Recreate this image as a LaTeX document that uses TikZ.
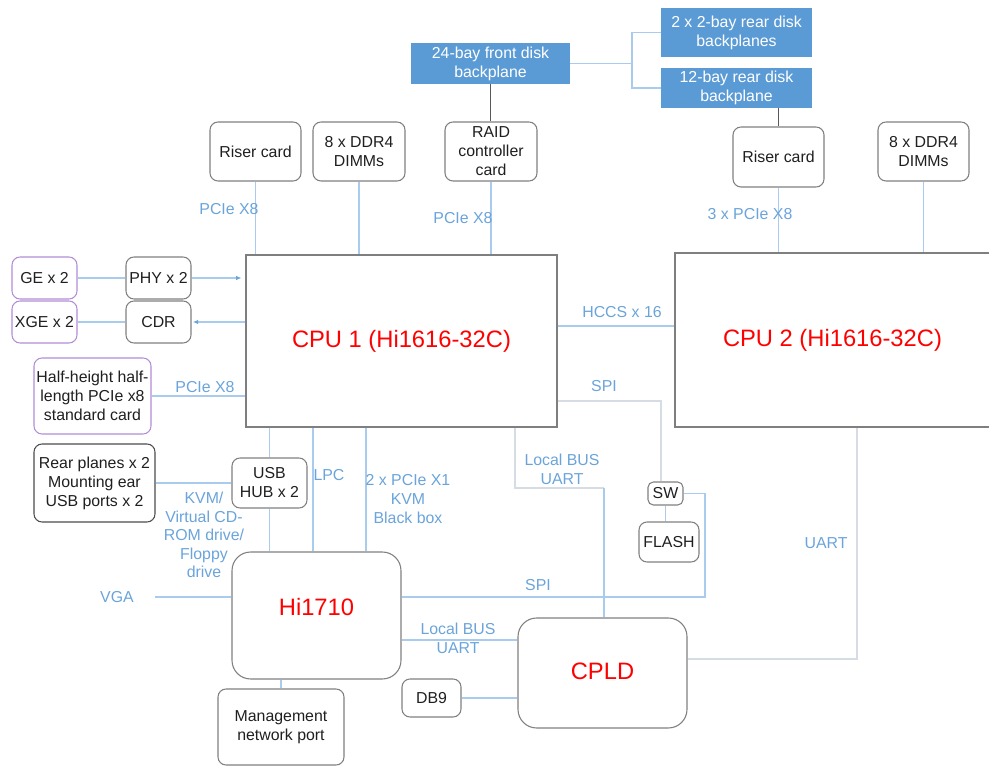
\documentclass[tikz,border=0pt]{standalone}
\usepackage{fontspec}
\setmainfont{Liberation Sans}
\usetikzlibrary{arrows.meta}
\definecolor{bpblue}{HTML}{5B9BD5}
\definecolor{lblue}{HTML}{A9CCEE}
\definecolor{lgray}{HTML}{D6DCE4}
\definecolor{txtblue}{HTML}{6AA4DA}
\definecolor{bord}{HTML}{7F7F7F}
\definecolor{purp}{HTML}{B08ED6}
\definecolor{cpured}{HTML}{FF0000}
\newcommand\bxfont{\fontsize{11.9}{14.2}\selectfont}
\newcommand\bgfont{\fontsize{17.8}{20}\selectfont}
\tikzset{
  box/.style={draw=bord, line width=0.8pt, rounded corners=6pt, inner sep=0pt, align=center, font=\bxfont, text=black!88},
  pbox/.style={box, draw=purp},
  dbox/.style={box, draw=black!70},
  bigbox/.style={box, rounded corners=14pt, font=\bgfont, text=cpured},
  cpu/.style={draw=bord, line width=0.9pt, inner sep=0pt, font=\bgfont, text=cpured},
  bp/.style={fill=bpblue, draw=none, inner sep=0pt, align=center, font=\bxfont, text=white},
  conn/.style={draw=lblue, line width=0.8pt},
  gconn/.style={draw=lgray, line width=0.9pt},
  dconn/.style={draw=black!65, line width=1pt},
  lab/.style={text=txtblue, font=\bxfont, align=center, inner sep=0pt},
  tip/.style={-{Latex[length=4pt,width=3.5pt,color=txtblue]}},
  wh/.style 2 args={minimum width=#1pt, minimum height=#2pt}
}
\begin{document}
\begin{tikzpicture}[x=0.75pt,y=-0.75pt]
\useasboundingbox (0,0) rectangle (989,766);

% disk backplanes
\node[bp, wh={119.25}{30.75}] (fb) at (490.5,63.5) {24-bay front disk\\backplane};
\node[bp, wh={113.25}{36.75}] (rb2) at (736.5,32.5) {2 x 2-bay rear disk\\backplanes};
\node[bp, wh={113.25}{30}] (rb12) at (736.5,88) {12-bay rear disk\\backplane};
\coordinate (j1) at (632,61);
\draw[conn] (fb.east) -- (fb.east -| j1);
\draw[conn] (rb2.west) -| (j1) |- (rb12.west);

% second row
\node[box, wh={68.25}{44.25}] (rc1) at (255.5,151.5) {Riser card};
\node[box, wh={69}{44.25}] (dd1) at (359,151.5) {8 x DDR4\\DIMMs};
\node[box, wh={69}{44.25}] (raid) at (491,151.5) {RAID\\controller\\card};
\node[box, wh={68.25}{45}] (rc2) at (778.5,157) {Riser card};
\node[box, wh={68.25}{44.25}] (dd2) at (923.5,151.5) {8 x DDR4\\DIMMs};

\draw[dconn] (fb.south) -- (fb.south |- raid.north);
\draw[dconn] (rc2.north) -- (rc2.north |- rb12.south);

% CPUs
\node[cpu, wh={233.25}{129}] (cpu1) at (401.5,341) {CPU 1 (Hi1616-32C)};
\node[cpu, wh={236.25}{130.5}] (cpu2) at (832.5,340) {CPU 2 (Hi1616-32C)};

\draw[conn] (rc1.south) -- (rc1.south |- cpu1.north);
\draw[conn] (dd1.south) -- (dd1.south |- cpu1.north);
\draw[conn] (raid.south) -- (raid.south |- cpu1.north);
\draw[conn] (rc2.south) -- (rc2.south |- cpu2.north);
\draw[conn] (dd2.south) -- (dd2.south |- cpu2.north);

\node[lab] (l1) at (229,209) {PCIe X8};
\node[lab] (l2) at (463,218) {PCIe X8};
\node[lab] (l3) at (750,214) {3 x PCIe X8};

\coordinate (hc) at (620,326);
\draw[conn] (cpu1.east |- hc) -- (cpu2.west |- hc);
\node[lab] (l4) at (622,312) {HCCS x 16};

% left side
\node[pbox, wh={48.75}{31.5}] (ge) at (44.5,278) {GE x 2};
\node[pbox, wh={48.75}{31.5}] (xge) at (44.5,322) {XGE x 2};
\node[box, wh={48.75}{31.5}] (phy) at (158.5,278) {PHY x 2};
\node[box, wh={48.75}{31.5}] (cdr) at (158.5,322) {CDR};
\draw[conn] (ge) -- (phy);
\draw[conn, tip, shorten >=3pt] (phy) -- (phy -| cpu1.west);
\draw[conn, tip, shorten >=1pt] (cpu1.west |- cdr) -- (cdr);
\draw[conn] (cdr) -- (xge);

\node[pbox, wh={87.75}{57}] (hh) at (92.5,396) {Half-height half-\\length PCIe x8\\standard card};
\draw[conn] (hh) -- (hh -| cpu1.west);
\node[lab] (l5) at (205,387) {PCIe X8};

\node[dbox, wh={90.75}{58.5}] (rear) at (94.5,483) {Rear planes x 2\\Mounting ear\\USB ports x 2};
\node[box, wh={56.25}{37.5}] (usb) at (269.5,483) {USB\\HUB x 2};
\draw[conn] (rear) -- (usb);

% Hi1710
\node[bigbox, wh={126.75}{95.25}, text depth=13.5pt] (hi) at (316.5,615.5) {Hi1710};
\draw[conn] (cpu1.south -| usb.north) -- (usb.north);
\draw[conn] (usb.south) -- (usb.south |- hi.north);
\coordinate (xlpc) at (313,500);
\coordinate (xkvm) at (366,500);
\draw[conn] (cpu1.south -| xlpc) -- (hi.north -| xlpc);
\draw[conn] (cpu1.south -| xkvm) -- (hi.north -| xkvm);
\node[lab] (l6) at (329,475) {LPC};
\node[lab] (l7) at (408,499) {2 x PCIe X1\\KVM\\Black box};
\node[lab, font=\fontsize{11.9}{13.8}\selectfont] (l8) at (204,535) {KVM/\\Virtual CD-\\ROM drive/\\Floppy\\drive};

\coordinate (vga) at (155,597);
\draw[conn] (vga) -- (vga -| hi.west);
\node[lab] (l9) at (117,597) {VGA};

% SW / FLASH
\node[box, rounded corners=4pt, wh={26.25}{17.25}] (sw) at (665.5,493.5) {SW};
\node[box, wh={45}{30}] (flash) at (669,542) {FLASH};
\draw[conn] (sw.south) -- (sw.south |- flash.north);
\coordinate (spi1) at (705,597);
\draw[conn] (hi.east |- spi1) -- (spi1) |- (sw.east);
\node[lab] (l10) at (538,585) {SPI};
\coordinate (spi2) at (661,401);
\draw[gconn] (cpu1.east |- spi2) -- (spi2) -- (spi2 |- sw.north);
\node[lab] (l11) at (604,386) {SPI};

% CPLD
\node[bigbox, wh={126.75}{82.5}, text depth=3pt] (cpld) at (602.5,673) {CPLD};
\coordinate (lb1) at (515,488);
\coordinate (lb2) at (604,488);
\draw[gconn] (cpu1.south -| lb1) -- (lb1) -- (lb2);
\draw[conn] (lb2) -- (lb2 |- cpld.north);
\node[lab] (l12) at (562,469) {Local BUS\\UART};

\coordinate (lb3) at (460,640);
\draw[conn] (hi.east |- lb3) -- (cpld.west |- lb3);
\node[lab] (l13) at (458,638) {Local BUS\\UART};

\node[box, wh={44.25}{28.5}] (db9) at (431.5,698) {DB9};
\draw[conn] (db9) -- (db9 -| cpld.west);

\coordinate (u1) at (857,659);
\draw[gconn] (cpu2.south -| u1) -- (u1) -- (u1 -| cpld.east);
\node[lab] (l14) at (826,543) {UART};

% management port
\node[box, wh={94.5}{57}] (mg) at (281,727) {Management\\network port};
\draw[conn] (hi.south -| mg.north) -- (mg.north);
\end{tikzpicture}
\end{document}
